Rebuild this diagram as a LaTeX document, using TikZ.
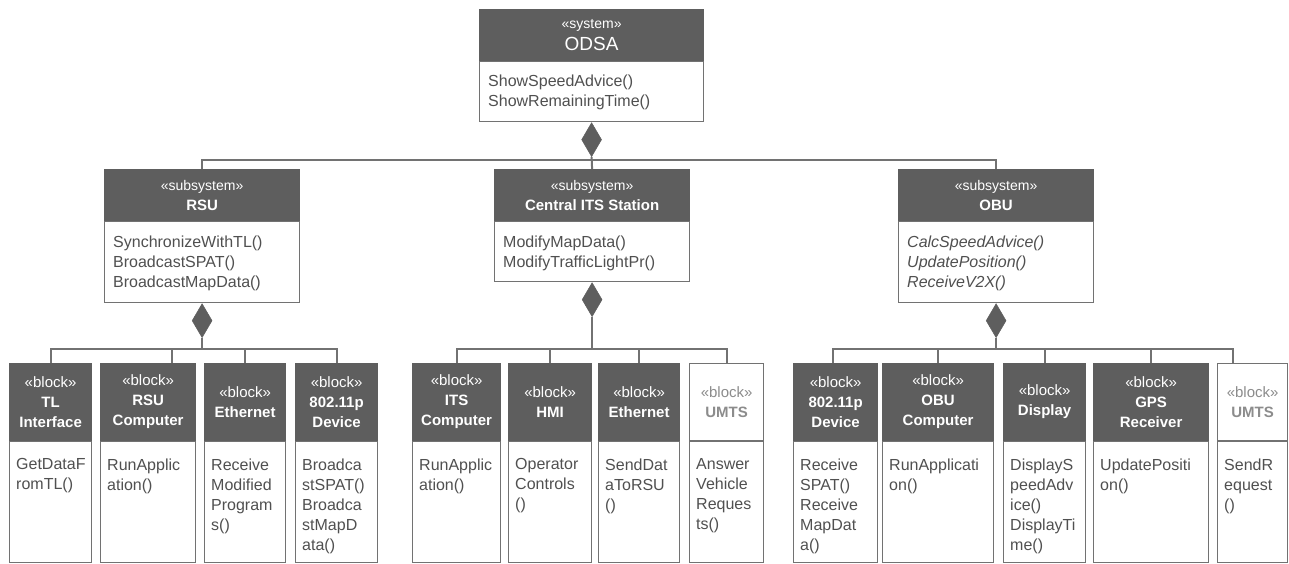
\documentclass[tikz,border=0pt]{standalone}
\usepackage{fontspec}
\setmainfont{Liberation Sans}
\usetikzlibrary{shapes.geometric}
\definecolor{hdrgray}{HTML}{5E5E5E}
\definecolor{linegray}{HTML}{727272}
\definecolor{txtgray}{HTML}{505050}
\definecolor{paletxt}{HTML}{8C8C8C}
\tikzset{
  hdr/.style={fill=hdrgray, draw=hdrgray, line width=1.2pt, text=white, align=center, inner sep=0pt, font=\fontsize{15}{20}\selectfont},
  hdrw/.style={fill=white, draw=linegray, line width=1.2pt, text=paletxt, align=center, inner sep=0pt, font=\fontsize{15}{20}\selectfont},
  bodybox/.style={draw=linegray, line width=1.2pt, fill=white, inner sep=0pt},
  bodytxt/.style={inner sep=0pt, align=left, text=txtgray, font=\fontsize{16}{20}\selectfont},
  conn/.style={draw=linegray, line width=2pt},
  dia/.style={diamond, fill=hdrgray, draw=hdrgray, line width=0.5pt, inner sep=0pt, minimum width=20pt, minimum height=34pt, anchor=north}
}
% big class: name, x, y, width, body height, header, body, body text options
\newcommand\umlcls[8]{%
  \node[hdr, anchor=north west, minimum width=#4pt, minimum height=51pt] (#1h) at (#2,#3) {#6};
  \node[bodybox, anchor=north west, minimum width=#4pt, minimum height=#5pt] (#1b) at (#1h.south west) {};
  \node[bodytxt, anchor=north west, #8] (#1t) at ([xshift=9pt,yshift=-14pt]#1b.north west) {#7};
  \node[dia] (#1d) at (#1b.south) {};
}
% block: name, x left, x right, header style, header, body
\newcommand\umlblk[6]{%
  \node[#4, anchor=north west, minimum width={(#3-#2)*1pt}, minimum height=77pt] (#1h) at (#2,363) {#5};
  \node[bodybox, anchor=north west, minimum width={(#3-#2)*1pt}, minimum height=121pt] (#1b) at (#1h.south west) {};
  \node[bodytxt, anchor=north west] (#1t) at ([xshift=7pt,yshift=-17pt]#1b.north west) {#6};
}
\begin{document}
\begin{tikzpicture}[x=1pt,y=-1pt]
\useasboundingbox (0,0) rectangle (1289,563);
\fill[white] (0,0) rectangle (1289,563);

% top-level classes
\umlcls{odsa}{479}{9}{224}{60}{{\fontsize{14}{16}\selectfont «system»}\\[2pt]{\fontsize{19}{22}\selectfont ODSA}}{ShowSpeedAdvice()\\ShowRemainingTime()}{}
\umlcls{rsu}{104}{169}{195}{81}{{\fontsize{14}{20}\selectfont «subsystem»}\\\textbf{RSU}}{SynchronizeWithTL()\\BroadcastSPAT()\\BroadcastMapData()}{}
\umlcls{cits}{494}{169}{195}{60}{{\fontsize{14}{20}\selectfont «subsystem»}\\\textbf{Central ITS Station}}{ModifyMapData()\\ModifyTrafficLightPr()}{}
\umlcls{obu}{898}{169}{195}{81}{{\fontsize{14}{20}\selectfont «subsystem»}\\\textbf{OBU}}{CalcSpeedAdvice()\\UpdatePosition()\\ReceiveV2X()}{font=\fontsize{16}{20}\selectfont\itshape}

% blocks
\umlblk{tl}{9}{91}{hdr}{«block»\\\textbf{TL}\\\textbf{Interface}}{GetDataF\\romTL()}
\umlblk{rsuc}{100}{195}{hdr}{«block»\\\textbf{RSU}\\\textbf{Computer}}{RunApplic\\ation()}
\umlblk{eth}{204}{285}{hdr}{«block»\\\textbf{Ethernet}}{Receive\\Modified\\Program\\s()}
\umlblk{wave}{295}{377}{hdr}{«block»\\\textbf{802.11p}\\\textbf{Device}}{Broadca\\stSPAT()\\Broadca\\stMapD\\ata()}
\umlblk{itsc}{412}{500}{hdr}{«block»\\\textbf{ITS}\\\textbf{Computer}}{RunApplic\\ation()}
\umlblk{hmi}{508}{591}{hdr}{«block»\\\textbf{HMI}}{Operator\\Controls\\()}
\umlblk{etht}{598}{679}{hdr}{«block»\\\textbf{Ethernet}}{SendDat\\aToRSU\\()}
\umlblk{umtsa}{689}{763}{hdrw}{«block»\\\textbf{UMTS}}{Answer\\Vehicle\\Reques\\ts()}
\umlblk{waveo}{793}{877}{hdr}{«block»\\\textbf{802.11p}\\\textbf{Device}}{Receive\\SPAT()\\Receive\\MapDat\\a()}
\umlblk{obuc}{882}{993}{hdr}{«block»\\\textbf{OBU}\\\textbf{Computer}}{RunApplicati\\on()}
\umlblk{disp}{1003}{1085}{hdr}{«block»\\\textbf{Display}}{DisplayS\\peedAdv\\ice()\\DisplayTi\\me()}
\umlblk{gps}{1093}{1208}{hdr}{«block»\\\textbf{GPS}\\\textbf{Receiver}}{UpdatePositi\\on()}
\umlblk{umtsb}{1217}{1287}{hdrw}{«block»\\\textbf{UMTS}}{SendR\\equest\\()}

% top level connectors
\coordinate (topbar) at (odsad.south |- 0,160);
\draw[conn] (odsad.south) -- (citsh.north);
\draw[conn] (topbar) -| (rsuh.north);
\draw[conn] (topbar) -| (obuh.north);

% RSU group
\coordinate (rsubar) at (rsud.south |- 0,349);
\draw[conn] (rsud.south) -- (rsubar);
\draw[conn] (tlh.north) |- (rsubar);
\draw[conn] ([xshift=24pt]rsuch.north) |- (rsubar);
\draw[conn] (ethh.north) |- (rsubar);
\draw[conn] (waveh.north) |- (rsubar);

% Central ITS group
\coordinate (citsbar) at (citsd.south |- 0,349);
\draw[conn] (citsd.south) -- (citsbar);
\draw[conn] (itsch.north) |- (citsbar);
\draw[conn] (hmih.north) |- (citsbar);
\draw[conn] (ethth.north) |- (citsbar);
\draw[conn] (umtsah.north) |- (citsbar);

% OBU group
\coordinate (obubar) at (obud.south |- 0,349);
\draw[conn] (obud.south) -- (obubar);
\draw[conn] ([xshift=-3pt]waveoh.north) |- (obubar);
\draw[conn] (obuch.north) |- (obubar);
\draw[conn] (disph.north) |- (obubar);
\draw[conn] (gpsh.north) |- (obubar);
\draw[conn] ([xshift=-20pt]umtsbh.north) |- (obubar);
\end{tikzpicture}
\end{document}
